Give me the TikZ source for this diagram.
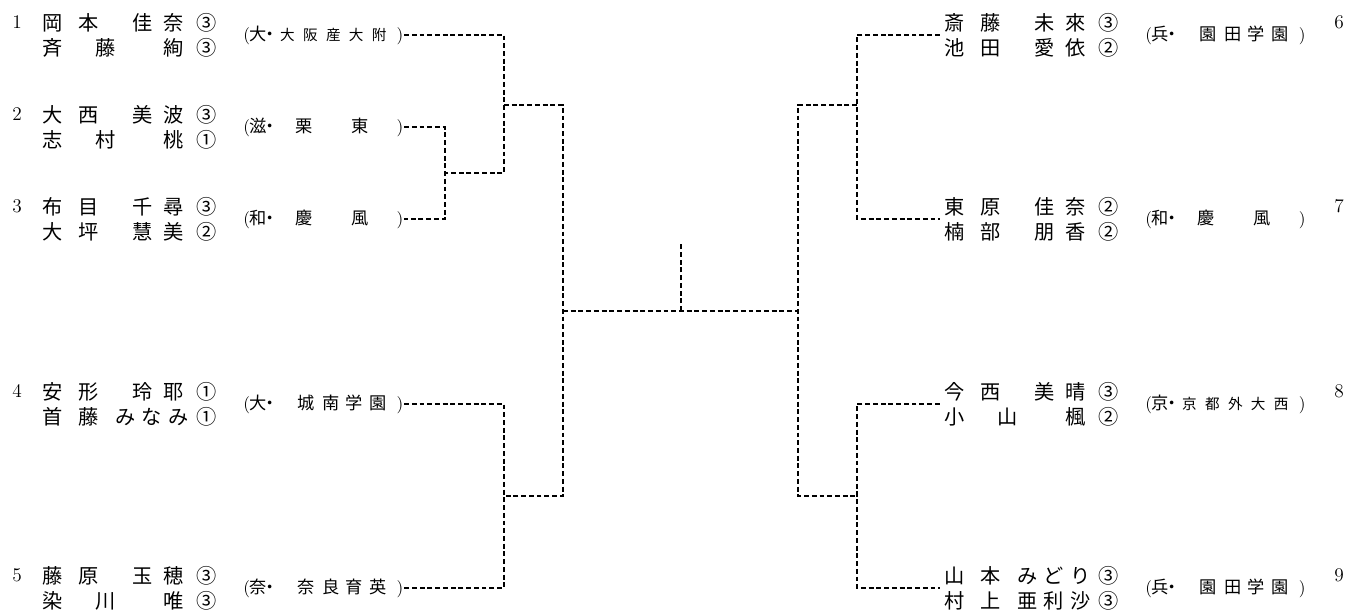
\documentclass[tikz,border=0pt]{standalone}
\usepackage{fontspec}
\newfontfamily\jp{Noto Sans CJK JP}
\newdimen\px \px=0.5669pt
% one glyph at an offset (in px of the picture)
\newcommand{\putg}[2]{\rlap{\hspace*{#1\px}#2}}
% name lines: family name, given name, grade
\newcommand{\nmA}[5]{\putg{0}{#1}\putg{36}{#2}\putg{91}{#3}\putg{122}{#4}\putg{155}{#5}\hspace*{178\px}}
\newcommand{\nmB}[4]{\putg{0}{#1}\putg{53}{#2}\putg{122}{#3}\putg{155}{#4}\hspace*{178\px}}
\newcommand{\nmC}[6]{\putg{0}{#1}\putg{36}{#2}\putg{73}{#3}\putg{100}{#4}\putg{127}{#5}\putg{155}{#6}\hspace*{178\px}}
% school labels
\newcommand{\sch}[5]{\putg{0}{\rmfamily(}\putg{6}{#1}\putg{18}{・}\putg{54}{#2}\putg{79}{#3}\putg{103}{#4}\putg{127}{#5}\putg{154}{\rmfamily)}\hspace*{161\px}}
\newcommand{\schw}[3]{\putg{0}{\rmfamily(}\putg{6}{#1}\putg{18}{・}\putg{52}{#2}\putg{109}{#3}\putg{154}{\rmfamily)}\hspace*{161\px}}
\newcommand{\schs}[6]{\putg{0}{\rmfamily(}\putg{6}{#1}\putg{18}{・}{\fontsize{8.3}{9}\selectfont\putg{37}{#2}\putg{60}{#3}\putg{83}{#4}\putg{106}{#5}\putg{129}{#6}}\putg{154}{\rmfamily)}\hspace*{161\px}}

\begin{document}
\begin{tikzpicture}[x=0.02cm,y=-0.02cm,
  bline/.style={line width=0.95pt,dash pattern=on 2.8pt off 1.6pt},
  nm/.style={anchor=west,inner sep=0pt,align=left,font=\jp\fontsize{11.5}{14.2}\selectfont},
  sc/.style={anchor=west,inner sep=0pt,font=\jp\fontsize{9.8}{11}\selectfont},
  no/.style={inner sep=0pt,font=\fontsize{11}{12}\selectfont}]

  \useasboundingbox (0,0) rectangle (1365,615);

  %left side
  \node[no] (k1) at (17,22) {1};
  \node[nm] (n1) at (42,35) {\nmA{岡}{本}{佳}{奈}{③}\\\nmB{斉}{藤}{絢}{③}};
  \node[sc] (s1) at (243,35) {\schs{大}{大}{阪}{産}{大}{附}};

  \node[no] (k2) at (17,114) {2};
  \node[nm] (n2) at (42,127) {\nmA{大}{西}{美}{波}{③}\\\nmB{志}{村}{桃}{①}};
  \node[sc] (s2) at (243,127) {\schw{滋}{栗}{東}};

  \node[no] (k3) at (17,206) {3};
  \node[nm] (n3) at (42,219) {\nmA{布}{目}{千}{尋}{③}\\\nmA{大}{坪}{慧}{美}{②}};
  \node[sc] (s3) at (243,219) {\schw{和}{慶}{風}};

  \node[no] (k4) at (17,391) {4};
  \node[nm] (n4) at (42,404) {\nmA{安}{形}{玲}{耶}{①}\\\nmC{首}{藤}{み}{な}{み}{①}};
  \node[sc] (s4) at (243,404) {\sch{大}{城}{南}{学}{園}};

  \node[no] (k5) at (17,575) {5};
  \node[nm] (n5) at (42,588) {\nmA{藤}{原}{玉}{穂}{③}\\\nmB{染}{川}{唯}{③}};
  \node[sc] (s5) at (243,588) {\sch{奈}{奈}{良}{育}{英}};

  %right side
  \node[nm] (n6) at (944,35) {\nmA{斎}{藤}{未}{來}{③}\\\nmA{池}{田}{愛}{依}{②}};
  \node[sc] (s6) at (1145,35) {\sch{兵}{園}{田}{学}{園}};
  \node[no] (k6) at (1339,22) {6};

  \node[nm] (n7) at (944,219) {\nmA{東}{原}{佳}{奈}{②}\\\nmA{楠}{部}{朋}{香}{②}};
  \node[sc] (s7) at (1145,219) {\schw{和}{慶}{風}};
  \node[no] (k7) at (1339,206) {7};

  \node[nm] (n8) at (944,404) {\nmA{今}{西}{美}{晴}{③}\\\nmB{小}{山}{楓}{②}};
  \node[sc] (s8) at (1145,404) {\schs{京}{京}{都}{外}{大}{西}};
  \node[no] (k8) at (1339,391) {8};

  \node[nm] (n9) at (944,588) {\nmC{山}{本}{み}{ど}{り}{③}\\\nmC{村}{上}{亜}{利}{沙}{③}};
  \node[sc] (s9) at (1145,588) {\sch{兵}{園}{田}{学}{園}};
  \node[no] (k9) at (1339,575) {9};

  %bracket joins
  \coordinate (j23) at (445,173);
  \coordinate (j123) at (504,105);
  \coordinate (j45) at (504,496);
  \coordinate (jL) at (563,311);
  \coordinate (jC) at (681,311);
  \coordinate (top) at (681,243);
  \coordinate (jR) at (798,311);
  \coordinate (j67) at (857,105);
  \coordinate (j89) at (857,496);

  \draw[bline] (s2.east) -| (j23) |- (s3.east);
  \draw[bline] (s1.east) -| (j123) |- (j23);
  \draw[bline] (s4.east) -| (j45) |- (s5.east);
  \draw[bline] (j123) -| (jL) |- (j45);
  \draw[bline] (jL) -- (jR);
  \draw[bline] (jC) -- (top);
  \draw[bline,shorten <=2.5pt,shorten >=2.5pt] (n6.west) -| (j67) |- (n7.west);
  \draw[bline,shorten <=2.5pt,shorten >=2.5pt] (n8.west) -| (j89) |- (n9.west);
  \draw[bline] (j67) -| (jR) |- (j89);
\end{tikzpicture}
\end{document}
